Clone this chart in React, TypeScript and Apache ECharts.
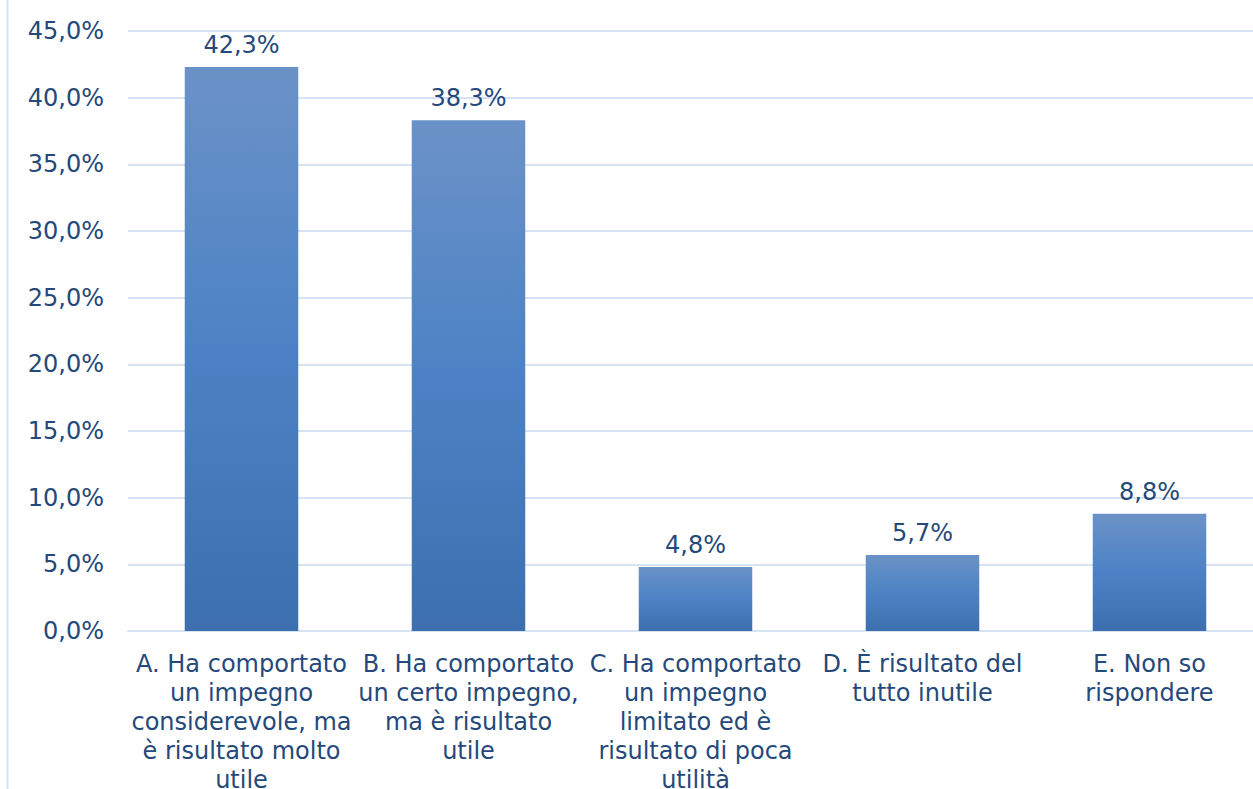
import React, { useEffect, useRef } from "react";
import * as echarts from "echarts";

const categories = [
  "A. Ha comportato\nun impegno\nconsiderevole, ma\nè risultato molto\nutile",
  "B. Ha comportato\nun certo impegno,\nma è risultato\nutile",
  "C. Ha comportato\nun impegno\nlimitato ed è\nrisultato di poca\nutilità",
  "D. È risultato del\ntutto inutile",
  "E. Non so\nrispondere",
];
const values = [42.3, 38.3, 4.8, 5.7, 8.8];
const yTicks = [0, 5, 10, 15, 20, 25, 30, 35, 40, 45];

const fmt = (v: number) => v.toFixed(1).replace(".", ",") + "%";

export default function App() {
  const ref = useRef<HTMLDivElement>(null);
  useEffect(() => {
    if (!ref.current) return;
    const chart = echarts.init(ref.current, undefined, { renderer: "svg" });
    const textColor = "#24497A";
    const font = "DejaVu Sans";
    chart.setOption({
      animation: false,
      backgroundColor: "#ffffff",
      textStyle: { fontFamily: font },
      grid: {
        left: 128,
        right: -10,
        top: 31,
        bottom: 158,
        containLabel: false,
        outerBoundsMode: "none",
      },
      graphic: [
        {
          type: "line",
          shape: { x1: 7.5, y1: 0, x2: 7.5, y2: 789 },
          style: { stroke: "#D6E3F5", lineWidth: 2 },
        },
      ],
      xAxis: {
        type: "category",
        data: categories,
        axisTick: { show: false },
        axisLine: { show: true, lineStyle: { color: "#D6E3F5", width: 2 } },
        axisLabel: {
          interval: 0,
          color: textColor,
          fontSize: 24,
          fontFamily: font,
          lineHeight: 29,
          margin: 18,
          align: "center",
        },
      },
      yAxis: {
        type: "value",
        min: yTicks[0],
        max: yTicks[yTicks.length - 1],
        interval: 5,
        axisLine: { show: false },
        axisTick: { show: false },
        splitLine: { show: true, lineStyle: { color: "#D6E3F5", width: 2 } },
        axisLabel: {
          color: textColor,
          fontSize: 24,
          fontFamily: font,
          margin: 24,
          formatter: (v: number) => fmt(v),
        },
      },
      series: [
        {
          type: "bar",
          data: values,
          barWidth: "50%",
          itemStyle: {
            color: new echarts.graphic.LinearGradient(0, 0, 0, 1, [
              { offset: 0, color: "#6B92C7" },
              { offset: 0.5, color: "#4C82C5" },
              { offset: 1, color: "#3D6FAF" },
            ]),
          },
          label: {
            show: true,
            position: "top",
            distance: 10,
            color: textColor,
            fontSize: 24,
            fontFamily: font,
            formatter: (p: any) => fmt(p.value),
          },
        },
      ],
    });
    return () => chart.dispose();
  }, []);
  return <div ref={ref} style={{ width: 1253, height: 789, position: "absolute", left: 0, top: 0 }} />;
}
